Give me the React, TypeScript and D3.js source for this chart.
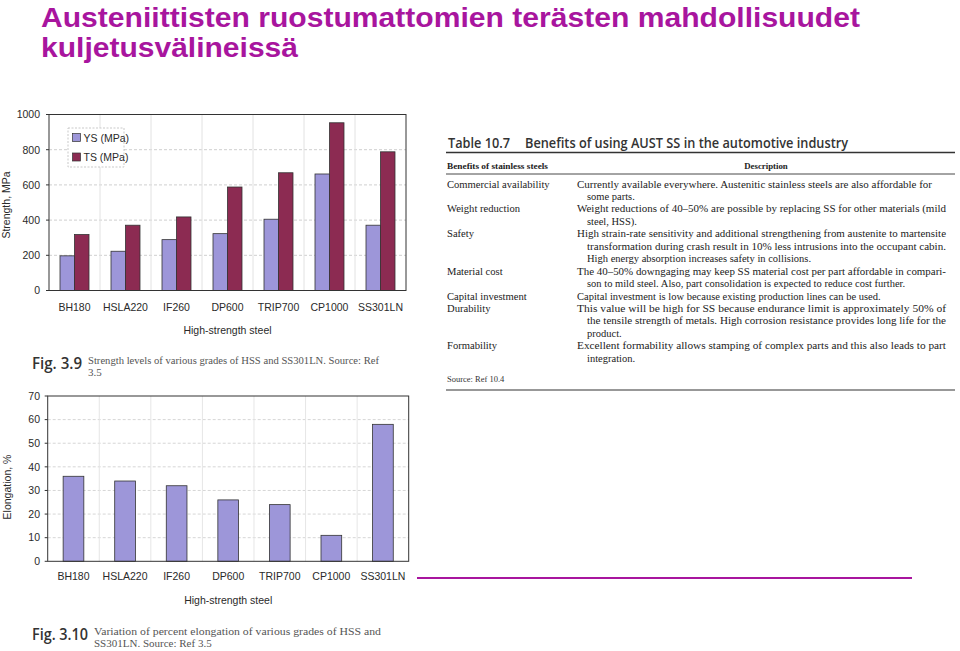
import React from "react";
import * as d3 from "d3";

const titleLines = ["Austeniittisten ruostumattomien terästen mahdollisuudet", "kuljetusvälineissä"];

const grades = ["BH180", "HSLA220", "IF260", "DP600", "TRIP700", "CP1000", "SS301LN"];
const ysMPa = [197, 223, 289, 323, 405, 662, 371];
const tsMPa = [318, 371, 418, 588, 669, 953, 788];
const strengthTicks = [0, 200, 400, 600, 800, 1000];
const elongation = [36, 34, 32, 26, 24, 11, 58];
const elongTicks = [0, 10, 20, 30, 40, 50, 60, 70];
const seriesNames = ["YS (MPa)", "TS (MPa)"];

const fig39Caption = ["Strength levels of various grades of HSS and SS301LN. Source: Ref", "3.5"];
const fig310Caption = ["Variation of percent elongation of various grades of HSS and", "SS301LN. Source: Ref 3.5"];

const tableTitle = ["Table 10.7", "Benefits of using AUST SS in the automotive industry"];
const tableHeaders = ["Benefits of stainless steels", "Description"];
const tableRows: [string, string[]][] = [
  ["Commercial availability", ["Currently available everywhere. Austenitic stainless steels are also affordable for", "some parts."]],
  ["Weight reduction", ["Weight reductions of 40–50% are possible by replacing SS for other materials (mild", "steel, HSS)."]],
  ["Safety", ["High strain-rate sensitivity and additional strengthening from austenite to martensite", "transformation during crash result in 10% less intrusions into the occupant cabin.", "High energy absorption increases safety in collisions."]],
  ["Material cost", ["The 40–50% downgaging may keep SS material cost per part affordable in compari-", "son to mild steel. Also, part consolidation is expected to reduce cost further."]],
  ["Capital investment", ["Capital investment is low because existing production lines can be used."]],
  ["Durability", ["This value will be high for SS because endurance limit is approximately 50% of", "the tensile strength of metals. High corrosion resistance provides long life for the", "product."]],
  ["Formability", ["Excellent formability allows stamping of complex parts and this also leads to part", "integration."]],
];
const tableSource = "Source: Ref 10.4";

const YS_COLOR = "#9d96d9";
const TS_COLOR = "#8c2b52";
const MAGENTA = "#a8159e";
const AX = "#2a2a2a";
const SANS = "'Liberation Sans', Arial, sans-serif";
const SERIF = "'Liberation Serif', 'Times New Roman', serif";

function StrengthChart() {
  const left = 49, right = 406, top = 114.5, bottom = 290.5;
  const x = d3.scaleBand<string>().domain(grades).range([left, right]);
  const y = d3.scaleLinear().domain([0, 1000]).range([bottom, top]);
  const sub = d3.scaleBand<string>().domain(["YS", "TS"]).range([0, 29]);
  return (
    <g fontFamily={SANS} fill={AX}>
      {strengthTicks.slice(1, -1).map((t) => (
        <line key={"h" + t} x1={left} x2={right} y1={y(t)} y2={y(t)} stroke="#cfcfcf" strokeDasharray="3,2" />
      ))}
      {grades.slice(1).map((g) => (
        <line key={"v" + g} x1={x(g)} x2={x(g)} y1={top} y2={bottom} stroke="#e2e2e2" />
      ))}
      {grades.map((g, i) => {
        const c = (x(g) as number) + x.bandwidth() / 2 - 14.5;
        return (
          <g key={g}>
            <rect x={c + (sub("YS") as number)} y={y(ysMPa[i])} width={sub.bandwidth()} height={bottom - y(ysMPa[i])} fill={YS_COLOR} stroke="#333" strokeWidth={0.8} />
            <rect x={c + (sub("TS") as number)} y={y(tsMPa[i])} width={sub.bandwidth()} height={bottom - y(tsMPa[i])} fill={TS_COLOR} stroke="#333" strokeWidth={0.8} />
          </g>
        );
      })}
      <rect x={left} y={top} width={right - left} height={bottom - top} fill="none" stroke="#333" strokeWidth={1} />
      {strengthTicks.map((t) => (
        <g key={"t" + t}>
          <line x1={left - 3} x2={left} y1={y(t)} y2={y(t)} stroke="#333" />
          <text x={40} y={y(t) + 3.8} fontSize={10.5} textAnchor="end">{t}</text>
        </g>
      ))}
      {grades.map((g) => (
        <text key={"l" + g} x={(x(g) as number) + x.bandwidth() / 2} y={310.5} fontSize={10.5} textAnchor="middle">{g}</text>
      ))}
      <text x={(left + right) / 2} y={334} fontSize={10.5} textAnchor="middle">High-strength steel</text>
      <text transform={`translate(10,205) rotate(-90)`} fontSize={10.5} textAnchor="middle">Strength, MPa</text>
      <g>
        <rect x={68} y={128} width={56} height={39} fill="#fff" stroke="#bbb" strokeDasharray="2,1.5" strokeWidth={0.8} />
        {seriesNames.map((s, i) => (
          <g key={s}>
            <rect x={72.5} y={133.5 + i * 19.5} width={8} height={8} fill={i === 0 ? YS_COLOR : TS_COLOR} stroke="#333" strokeWidth={0.7} />
            <text x={83.5} y={141.5 + i * 19.5} fontSize={10.5}>{s}</text>
          </g>
        ))}
      </g>
    </g>
  );
}

function ElongationChart() {
  const left = 47.7, right = 408.7, top = 396, bottom = 561.3;
  const x = d3.scaleBand<string>().domain(grades).range([left, right]);
  const y = d3.scaleLinear().domain([0, 70]).range([bottom, top]);
  const bw = 20.7;
  return (
    <g fontFamily={SANS} fill={AX}>
      {elongTicks.slice(1, -1).map((t) => (
        <line key={"h" + t} x1={left} x2={right} y1={y(t)} y2={y(t)} stroke="#d6d6d6" strokeDasharray="3,2" />
      ))}
      {grades.slice(1).map((g) => (
        <line key={"v" + g} x1={x(g)} x2={x(g)} y1={top} y2={bottom} stroke="#e6e6e6" />
      ))}
      {grades.map((g, i) => (
        <rect key={g} x={(x(g) as number) + x.bandwidth() / 2 - bw / 2} y={y(elongation[i])} width={bw} height={bottom - y(elongation[i])} fill={YS_COLOR} stroke="#333" strokeWidth={0.8} />
      ))}
      <rect x={left} y={top} width={right - left} height={bottom - top} fill="none" stroke="#333" strokeWidth={1} />
      {elongTicks.map((t) => (
        <g key={"t" + t}>
          <line x1={left - 3} x2={left} y1={y(t)} y2={y(t)} stroke="#333" />
          <text x={40} y={y(t) + 3.8} fontSize={10.5} textAnchor="end">{t}</text>
        </g>
      ))}
      {grades.map((g) => (
        <text key={"l" + g} x={(x(g) as number) + x.bandwidth() / 2} y={580} fontSize={10.5} textAnchor="middle">{g}</text>
      ))}
      <text x={(left + right) / 2} y={604} fontSize={10.5} textAnchor="middle">High-strength steel</text>
      <text transform={`translate(11,487) rotate(-90)`} fontSize={10.5} textAnchor="middle">Elongation, %</text>
    </g>
  );
}

function Caption({ fig, lines, x0, y0, figW, lineEnd }: { fig: string; lines: string[]; x0: number; y0: number; figW: number; lineEnd: number }) {
  return (
    <g>
      <text x={x0} y={y0 + 4} fontFamily="'Open Sans', 'DejaVu Sans', sans-serif" fontWeight={600} fontSize={16.5} fill="#333" textLength={figW} lengthAdjust="spacingAndGlyphs">{fig}</text>
      {lines.map((l, i) => (
        <text key={i} x={x0 + figW + 6} y={y0 - 1 + i * 12} fontFamily={SERIF} fontSize={11} fill="#555"
          {...(i < lines.length - 1 ? { textLength: lineEnd - (x0 + figW + 6), lengthAdjust: "spacingAndGlyphs" } : {})}>{l}</text>
      ))}
    </g>
  );
}

function BenefitsTable() {
  const colL = 447, colD = 577, indent = 587, endX = 946;
  let yCur = 187.5;
  const lh = 12.45;
  const rows: React.ReactNode[] = [];
  tableRows.forEach(([label, desc], ri) => {
    const y0 = yCur;
    rows.push(<text key={"L" + ri} x={colL} y={y0} fontSize={10.6}>{label}</text>);
    desc.forEach((d, di) => {
      const isLast = di === desc.length - 1;
      const xs = di === 0 ? colD : indent;
      rows.push(
        <text key={"D" + ri + "-" + di} x={xs} y={y0 + di * lh} fontSize={10.5}
          {...(!isLast ? { textLength: endX - xs - (di === 0 && ri === 0 ? 14 : 0), lengthAdjust: "spacingAndGlyphs" } : {})}>{d}</text>
      );
    });
    yCur += desc.length * lh;
  });
  return (
    <g fontFamily={SERIF} fill="#222">
      <text x={448} y={148} fontFamily="'Open Sans', 'DejaVu Sans', sans-serif" fontWeight={600} fontSize={14.5} fill="#333" textLength={62} lengthAdjust="spacingAndGlyphs">{tableTitle[0]}</text>
      <text x={525} y={148} fontFamily="'Open Sans', 'DejaVu Sans', sans-serif" fontWeight={600} fontSize={14.5} fill="#333" textLength={323} lengthAdjust="spacingAndGlyphs">{tableTitle[1]}</text>
      <line x1={446} x2={955} y1={152.5} y2={152.5} stroke="#333" strokeWidth={1.4} />
      <text x={447} y={169} fontSize={8.8} fontWeight="bold" textLength={101} lengthAdjust="spacingAndGlyphs">{tableHeaders[0]}</text>
      <text x={766} y={169} fontSize={8.8} fontWeight="bold" textAnchor="middle">{tableHeaders[1]}</text>
      <line x1={446} x2={955} y1={174} y2={174} stroke="#333" strokeWidth={0.9} />
      {rows}
      <text x={447} y={382} fontSize={8.5} fill="#333">{tableSource}</text>
      <line x1={446} x2={955} y1={390} y2={390} stroke="#333" strokeWidth={1.1} />
    </g>
  );
}

export default function App() {
  return (
    <svg width={960} height={651} style={{ position: "absolute", left: 0, top: 0, background: "#fff" }}>
      <rect width={960} height={651} fill="#fff" />
      <text x={41} y={26.5} fontFamily={SANS} fontWeight="bold" fontSize={28} fill={MAGENTA} textLength={819} lengthAdjust="spacingAndGlyphs">{titleLines[0]}</text>
      <text x={41} y={56.5} fontFamily={SANS} fontWeight="bold" fontSize={28} fill={MAGENTA} textLength={257} lengthAdjust="spacingAndGlyphs">{titleLines[1]}</text>
      <StrengthChart />
      <Caption fig="Fig. 3.9" lines={fig39Caption} x0={32} y0={365} figW={50} lineEnd={379} />
      <ElongationChart />
      <Caption fig="Fig. 3.10" lines={fig310Caption} x0={32} y0={636} figW={56} lineEnd={381} />
      <BenefitsTable />
      <line x1={417} x2={912} y1={578} y2={578} stroke={MAGENTA} strokeWidth={2} />
    </svg>
  );
}
